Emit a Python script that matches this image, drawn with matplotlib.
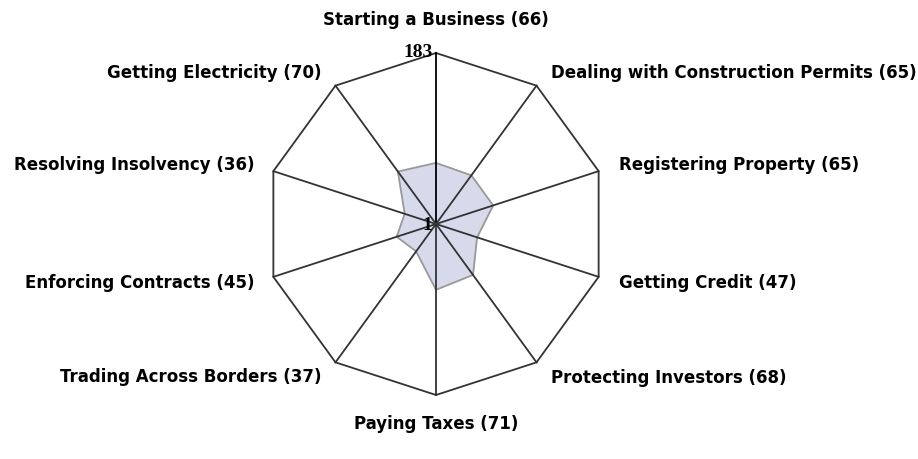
import numpy as np
import matplotlib
matplotlib.use("Agg")
import matplotlib.pyplot as plt

categories = ["Starting a Business", "Dealing with Construction Permits", "Registering Property",
              "Getting Credit", "Protecting Investors", "Paying Taxes", "Trading Across Borders",
              "Enforcing Contracts", "Resolving Insolvency", "Getting Electricity"]
ranks = [66, 65, 65, 47, 68, 71, 37, 45, 36, 70]
rmin, rmax = 1, 183

n = len(categories)
ang = np.arange(n) * 2 * np.pi / n  # clockwise from top

def xy(r, a):
    return r * np.sin(a), r * np.cos(a)

fig = plt.figure(figsize=(9.18, 4.6), dpi=100)
ax = fig.add_axes([0, 0, 1, 1])
cx, cy, R = 436, 225, 171
ax.set_xlim(-cx / R, (918 - cx) / R)
ax.set_ylim(-(460 - cy) / R, cy / R)
ax.axis("off")

# outer decagon + spokes
ox, oy = xy(1.0, np.append(ang, ang[0]))
ax.plot(ox, oy, color="#333333", lw=1.3, zorder=2)
for i, a in enumerate(ang):
    x, y = xy(1.0, a)
    ax.plot([0, x], [0, y], color="black" if i == 0 else "#333333", lw=1.3, zorder=3)

# data polygon
r = (np.array(ranks) - rmin) / (rmax - rmin)
px, py = xy(np.append(r, r[0]), np.append(ang, ang[0]))
ax.fill(px, py, color="#d7daeb", zorder=1)
ax.plot(px, py, color="#9a9a9a", lw=1.3, zorder=1.5)

# labels (offsets in pixels from vertex)
offs = [(0, 34, "center"), (14, 14, "left"), (20, 7, "left"), (20, -5, "left"), (14, -15, "left"),
        (0, -28, "center"), (-14, -14, "right"), (-19, -5, "right"), (-19, 7, "right"), (-14, 14, "right")]
for c, v, a, (dx, dy, ha) in zip(categories, ranks, ang, offs):
    x, y = xy(1.0, a)
    ax.annotate(f"{c} ({v})", (x, y), xytext=(dx * 0.72, dy * 0.72), textcoords="offset points",
                ha=ha, va="center", fontsize=12, fontweight="bold", family="DejaVu Sans")

ax.text(-0.02, 1.01, str(rmax), ha="right", va="center", fontsize=14, family="Liberation Serif",
        fontweight="bold")
ax.text(-0.02, 0.0, str(rmin), ha="right", va="center", fontsize=14, family="Liberation Serif",
        fontweight="bold")

fig.savefig("out.png", dpi=100)
